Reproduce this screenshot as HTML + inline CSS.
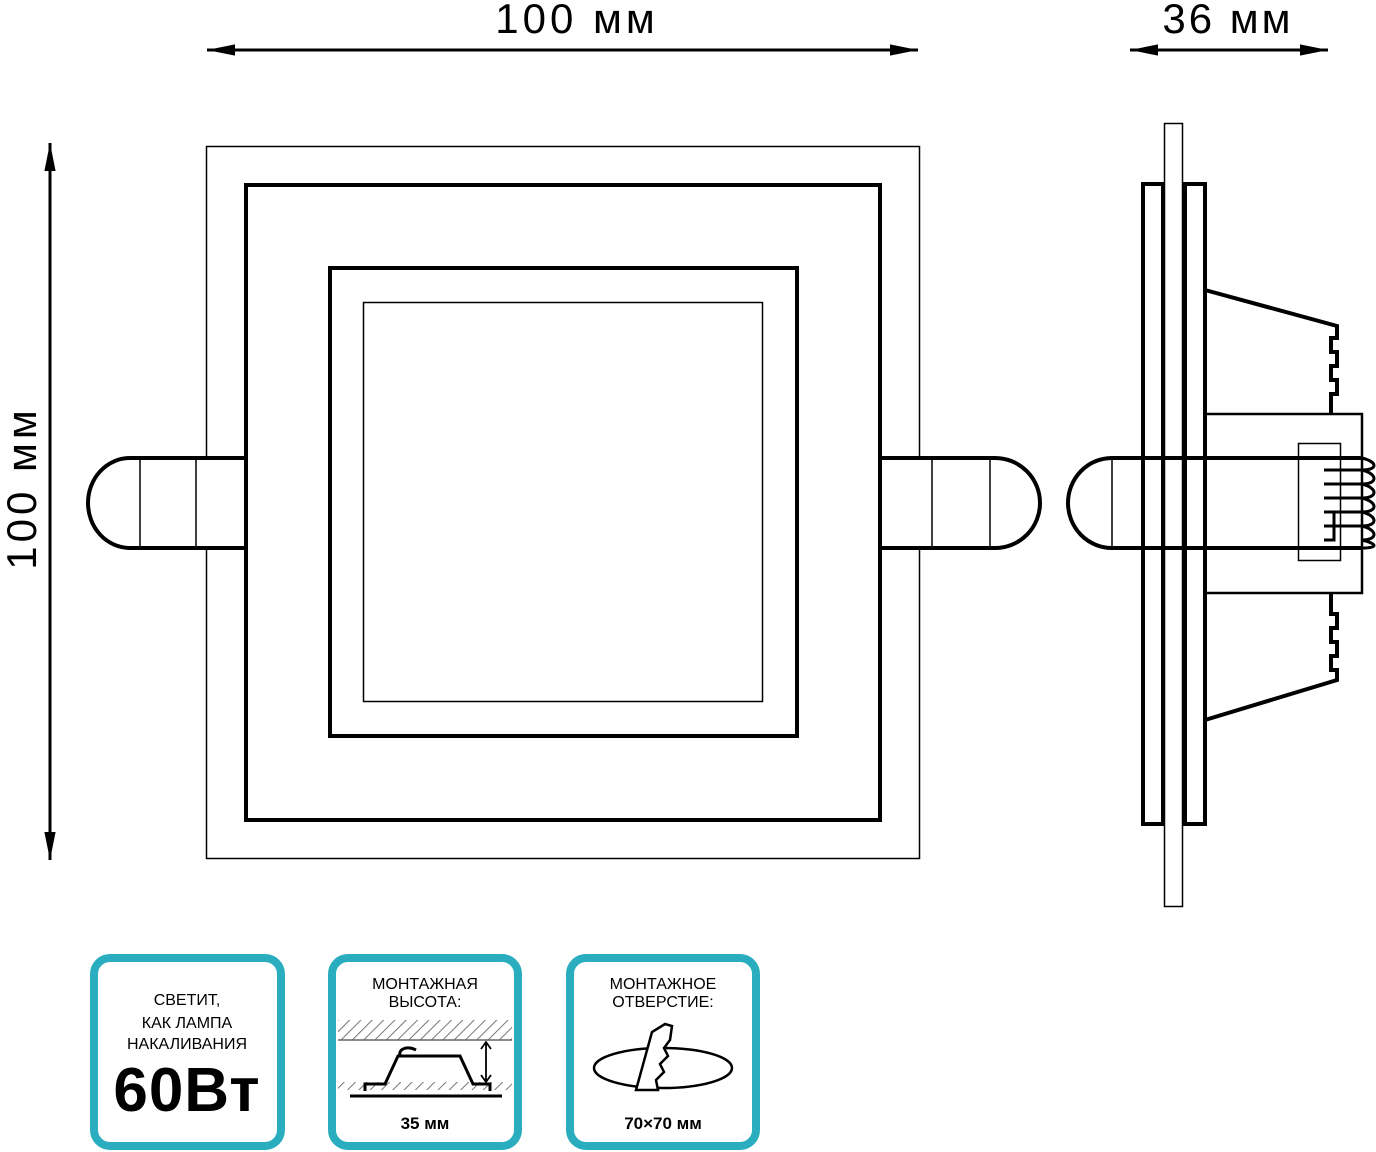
<!DOCTYPE html>
<html><head><meta charset="utf-8"><style>
body{margin:0;background:#fff;width:1376px;height:1152px;overflow:hidden}
svg{display:block}
text{font-family:"Liberation Sans",sans-serif}
</style></head><body>
<svg width="1376" height="1152" viewBox="0 0 1376 1152">
<defs>
<marker id="a" viewBox="0 0 20 10" refX="20" refY="5" markerWidth="40" markerHeight="14" markerUnits="userSpaceOnUse" orient="auto-start-reverse"><path d="M0,1 L20,5 L0,9 Z" fill="#000"/></marker>
<pattern id="h" width="8" height="8" patternUnits="userSpaceOnUse" patternTransform="rotate(45)"><line x1="0" y1="0" x2="0" y2="8" stroke="#777" stroke-width="2"/></pattern>
</defs>
<g stroke="#000" fill="none">
<line x1="207" y1="50" x2="918" y2="50" stroke-width="3" marker-start="url(#a)" marker-end="url(#a)"/>
<line x1="1130" y1="50" x2="1328" y2="50" stroke-width="3" marker-start="url(#a)" marker-end="url(#a)"/>
<line x1="50" y1="143" x2="50" y2="860" stroke-width="3" marker-start="url(#a)" marker-end="url(#a)"/>
<rect x="206.5" y="146.5" width="713" height="712" stroke-width="1.5"/>
<path d="M246,458 H130 A42,45 0 0 0 130,548 H246" fill="#fff" stroke-width="4"/>
<line x1="140" y1="458" x2="140" y2="548" stroke-width="1.5"/>
<line x1="196" y1="458" x2="196" y2="548" stroke-width="1.5"/>
<path d="M880,458 H995 A45,45 0 0 1 995,548 H880" fill="#fff" stroke-width="4"/>
<line x1="932" y1="458" x2="932" y2="548" stroke-width="1.5"/>
<line x1="990" y1="458" x2="990" y2="548" stroke-width="1.5"/>
<rect x="246" y="185" width="634" height="635" stroke-width="4" fill="#fff"/>
<rect x="330" y="268" width="467" height="468" stroke-width="4"/>
<rect x="363.5" y="302.5" width="399" height="399" stroke-width="1.5"/>
<path d="M1205,290 L1337,326 V338 H1331 V352 H1337 V366 H1331 V380 H1337 V394 H1331 V413" stroke-width="4"/>
<path d="M1205,720 L1337,680 V670 H1331 V656 H1337 V642 H1331 V628 H1337 V614 H1331 V593" stroke-width="4"/>
<rect x="1205" y="414" width="157" height="179" stroke-width="2.5"/>
<rect x="1298.5" y="443.5" width="42" height="117" stroke-width="1.5"/>
<rect x="1143" y="184" width="20" height="640" stroke-width="4" fill="#fff"/>
<rect x="1185" y="184" width="20" height="640" stroke-width="4" fill="#fff"/>
<rect x="1164.5" y="123.5" width="18" height="783" stroke-width="1.5" fill="#fff"/>
<path d="M1112,458 A44,45 0 0 0 1112,548" stroke-width="4"/>
<line x1="1112" y1="458" x2="1362" y2="458" stroke-width="4"/>
<line x1="1112" y1="548" x2="1362" y2="548" stroke-width="4"/>
<line x1="1112" y1="458" x2="1112" y2="548" stroke-width="1.5"/>
<line x1="1164" y1="458" x2="1164" y2="548" stroke-width="1.5"/>
<line x1="1185" y1="458" x2="1185" y2="548" stroke-width="4"/>
<path d="M1324,470 H1362 M1324,484 H1362 M1324,498 H1362 M1324,512 H1362 M1324,526 H1362" stroke-width="3"/>
<path d="M1334,512 V540 H1324" stroke-width="3"/>
<path d="M1362,458 C1378,462 1378,470 1362,470 C1378,474 1378,484 1362,484 C1378,488 1378,498 1362,498 C1378,502 1378,512 1362,512 C1378,516 1378,526 1362,526 C1378,530 1378,540 1362,540 C1378,544 1378,548 1362,548" stroke-width="3"/>
</g>
<text x="577" y="33" font-size="42" letter-spacing="4" text-anchor="middle">100 мм</text>
<text x="1228" y="33" font-size="42" letter-spacing="3" text-anchor="middle">36 мм</text>
<text transform="translate(36,488) rotate(-90)" font-size="42" letter-spacing="4" text-anchor="middle">100 мм</text>
<g stroke="#2aaebf" stroke-width="8" fill="none">
<rect x="94" y="958" width="187" height="188" rx="16"/>
<rect x="332" y="958" width="186" height="188" rx="16"/>
<rect x="570" y="958" width="186" height="188" rx="16"/>
</g>
<g font-size="16" text-anchor="middle">
<text x="187" y="1005">СВЕТИТ,</text>
<text x="187" y="1028">КАК ЛАМПА</text>
<text x="187" y="1049">НАКАЛИВАНИЯ</text>
<text x="425" y="989">МОНТАЖНАЯ</text>
<text x="425" y="1007">ВЫСОТА:</text>
<text x="663" y="989">МОНТАЖНОЕ</text>
<text x="663" y="1007">ОТВЕРСТИЕ:</text>
<text x="425" y="1129" font-weight="bold" font-size="17">35 мм</text>
<text x="663" y="1129" font-weight="bold" font-size="17">70×70 мм</text>
</g>
<text x="187" y="1111" font-size="62" font-weight="bold" letter-spacing="1" text-anchor="middle">60Вт</text>
<rect x="338" y="1020" width="174" height="20" fill="url(#h)"/>
<line x1="338" y1="1040" x2="512" y2="1040" stroke="#666" stroke-width="1.5"/>
<rect x="338" y="1082" width="174" height="8" fill="url(#h)"/>
<path d="M350,1096 H502 M365,1091 V1084 H385 L398,1056 H460 L473,1084 H490 V1091" stroke="#000" stroke-width="3" fill="none"/>
<path d="M400,1056 C398,1048 408,1046 416,1050" stroke="#000" stroke-width="3" fill="none"/>
<path d="M486,1042 V1082 M481,1049 L486,1042 L491,1049 M481,1075 L486,1082 L491,1075" stroke="#000" stroke-width="1.8" fill="none"/>
<ellipse cx="663" cy="1068" rx="69" ry="20" fill="none" stroke="#000" stroke-width="2.5"/>
<path d="M636,1090 L652,1032 L665,1024 L672,1026 L670,1040 L664,1048 L668,1056 L660,1064 L664,1072 L656,1080 L658,1090 Z" fill="#fff" stroke="#000" stroke-width="2.5"/>
</svg>
</body></html>
